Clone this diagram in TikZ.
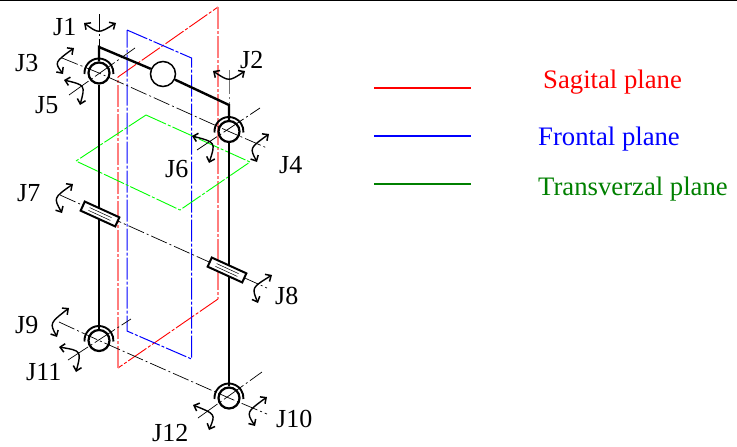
\documentclass[tikz,border=0pt]{standalone}
\usepackage{fontspec}
\setmainfont{Liberation Serif}
\usetikzlibrary{calc,arrows.meta}
\definecolor{pinkred}{RGB}{255,125,125}
\definecolor{legendgreen}{RGB}{0,128,0}
\tikzset{
  planeedge/.style={line width=0.9pt,dash pattern=on 22pt off 2pt on 3pt off 2pt},
  redslant/.style={planeedge,red},
  redvert/.style={planeedge,pinkred,line width=2.1pt},
  blueplane/.style={planeedge,blue,line width=1pt},
  greenplane/.style={planeedge,green,line width=0.9pt},
  axisline/.style={black,line width=0.7pt,dash pattern=on 17pt off 3pt on 2pt off 3pt},
  crossline/.style={black,line width=0.7pt,dash pattern=on 24pt off 3pt on 2pt off 3pt},
  frameline/.style={black,line width=2.4pt},
  jointnode/.style={circle,draw=black,line width=2.2pt,minimum size=21pt,inner sep=0pt},
  bignode/.style={circle,draw=black,fill=white,line width=1.5pt,minimum size=25pt,inner sep=0pt},
  slidernode/.style={rectangle,draw=black,fill=white,line width=2pt,minimum width=38pt,minimum height=10pt,inner sep=0pt,rotate=-24.5},
  jointarc/.style={black,line width=1.9pt},
  turnarrow/.style={black,line width=1.4pt,{Straight Barb[length=4.5pt,width=8.5pt,line width=1.5pt]}-{Straight Barb[length=4.5pt,width=8.5pt,line width=1.5pt]}},
  jlabel/.style={anchor=base west,inner sep=0pt,font=\fontsize{26}{28}\selectfont},
  legendlabel/.style={anchor=base west,inner sep=0pt,font=\fontsize{26.7}{28}\selectfont},
  legendline/.style={line width=1.4pt},
}
\newcommand{\turn}[3]{\draw[turnarrow] (#1) .. controls ($1.3333*(#2)-0.1667*(#1)-0.1667*(#3)$) and ($1.3333*(#2)-0.1667*(#1)-0.1667*(#3)$) .. (#3);}
\begin{document}
\begin{tikzpicture}[x=1pt,y=-1pt]
\useasboundingbox (0,0) rectangle (737,447);
\fill[black] (0,0) rectangle (737,1);

% planes
\draw[redslant] (118,77) -- (218,7);
\draw[redslant] (218,299) -- (118,368);
\draw[redvert] (218,7) -- (218,299);
\draw[redvert] (118,368) -- (118,77);
\draw[blueplane] (127,30) -- (191.5,58) -- (191.5,359) -- (127,331) -- cycle;
\draw[greenplane] (146,115) -- (250,162) -- (180,210) -- (76,161) -- cycle;

% frame
\coordinate (ftl) at (99,47);
\coordinate (ftr) at (229,105);
\coordinate (v1) at (99,14);
\coordinate (v2) at (229,70);
\node[jointnode] (jtl) at (99,73) {};
\node[jointnode] (jtr) at (229,131.5) {};
\node[jointnode] (jbl) at (99,340.5) {};
\node[jointnode] (jbr) at (229,398) {};
\node[bignode] (big) at (163,74) {};

% axes
\coordinate (a1) at (62,58);
\coordinate (a2) at (267,148);
\coordinate (b1) at (60,195);
\coordinate (b2) at (267,288);
\coordinate (c1) at (59,322);
\coordinate (c2) at (267,414);
\draw[axisline] (a1) -- (jtl.center) -- (jtr.center) -- (a2);
\draw[axisline] (b1) -- (b2);
\draw[axisline] (c1) -- (jbl.center) -- (jbr.center) -- (c2);
\coordinate (d1) at (69,95);  \coordinate (d2) at (135,48);
\coordinate (e1) at (197,150);\coordinate (e2) at (260,108);
\coordinate (f1) at (68,360); \coordinate (f2) at (131,319);
\coordinate (g1) at (198,418);\coordinate (g2) at (262,372);
\draw[crossline] (d1) -- (d2);
\draw[crossline] (e1) -- (e2);
\draw[crossline] (f1) -- (f2);
\draw[crossline] (g1) -- (g2);
\draw[axisline] (v1) -- (ftl);
\draw[black!55,line width=0.9pt,dash pattern=on 24pt off 3pt on 2pt off 3pt] (v2) -- (ftr);

% frame on top
\draw[frameline,line join=miter] (jtl) -- (ftl) -- (big);
\draw[frameline,line join=miter] (big) -- (ftr) -- (jtr);
\draw[frameline] (jtl) -- (jbl);
\draw[frameline] (jtr) -- (jbr);

% sliders
\node[slidernode] (s1) at (100,214) {};
\node[slidernode] (s2) at (227,270) {};
\draw[black,line width=0.5pt] ($(s1.center)+(-11.5,-3.6)$) -- ($(s1.center)+(10.3,6.4)$);
\draw[black,line width=0.5pt] ($(s1.center)+(-10.3,-6.4)$) -- ($(s1.center)+(11.5,3.6)$);
\draw[black,line width=0.5pt] ($(s2.center)+(-11.5,-3.6)$) -- ($(s2.center)+(10.3,6.4)$);
\draw[black,line width=0.5pt] ($(s2.center)+(-10.3,-6.4)$) -- ($(s2.center)+(11.5,3.6)$);

% joint arcs
\foreach \j in {jtl,jtr,jbl,jbr}{
  \draw[jointarc] ($(\j.center)+(-14.5,1)$) arc[start angle=176,end angle=364,radius=14.5];
}

% rotation arrows
\turn{84,23}{99,31}{116,23}
\turn{213,71}{229,79}{245,71}
\turn{74,48}{58,62}{63,74}
\turn{64,80}{82,87}{80,105}
\turn{269,134}{253,148}{257,162}
\turn{192,136}{212,144}{209,163}
\turn{73,184}{57,198}{62,213}
\turn{272,275}{255,288}{258,303}
\turn{69,308}{53,323}{57,337}
\turn{59,347}{78,353}{76,372}
\turn{267,397}{250,412}{255,426}
\turn{193,405}{212,415}{209,430}

% joint labels
\node[jlabel] (lj1) at (53,35) {J1};
\node[jlabel] (lj2) at (240,68) {J2};
\node[jlabel] (lj3) at (15,71) {J3};
\node[jlabel] (lj4) at (279,173) {J4};
\node[jlabel] (lj5) at (35,113) {J5};
\node[jlabel] (lj6) at (165,177) {J6};
\node[jlabel] (lj7) at (17,201) {J7};
\node[jlabel] (lj8) at (275,304) {J8};
\node[jlabel] (lj9) at (15,333) {J9};
\node[jlabel] (lj10) at (276,427) {J10};
\node[jlabel] (lj11) at (26,380) {J11};
\node[jlabel] (lj12) at (152,441) {J12};

% legend
\coordinate (ls1) at (374,88); \coordinate (ls2) at (471,88);
\coordinate (lf1) at (374,136);\coordinate (lf2) at (471,136);
\coordinate (lt1) at (374,184);\coordinate (lt2) at (471,184);
\draw[legendline,red] (ls1) -- (ls2);
\draw[legendline,blue] (lf1) -- (lf2);
\draw[legendline,legendgreen] (lt1) -- (lt2);
\node[legendlabel,text=red] (ts) at (543,88) {Sagital plane};
\node[legendlabel,text=blue] (tf) at (538,145) {Frontal plane};
\node[legendlabel,text=legendgreen] (tt) at (538,195) {Transverzal plane};
\end{tikzpicture}
\end{document}
